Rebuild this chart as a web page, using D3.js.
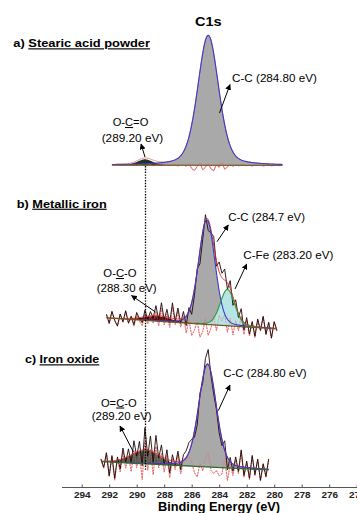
<!DOCTYPE html>
<html><head><meta charset="utf-8">
<script src="https://cdn.jsdelivr.net/npm/d3@7"></script>
<style>
html,body{margin:0;padding:0;background:#fff;}
svg{display:block;font-family:"Liberation Sans",Arial,sans-serif;}
</style></head>
<body>
<svg id="chart" width="357" height="513"></svg>
<script>
// ---------------- DATA ----------------
const energyTicks = [294, 292, 290, 288, 286, 284, 282, 280, 278, 276, 274];
const panelLetters = ["a)", "b)", "c)"];
const panelNames = ["Stearic acid powder", "Metallic iron", "Iron oxide"];
const energyStart = [291.8, 292.2, 292.6];   // eV, first measured point
const energyStep = 0.2;                        // eV between points
const bgLeft = [0.3, 11, 8.9];                 // background intensity at left end
const bgRight = [0, 1, 1];                     // background intensity at right end

// fitted components
const compPanel   = [0, 0, 1, 1, 1, 2, 2];
const compName    = ["C-C", "O-C=O", "C-C", "C-Fe", "O-C-O", "C-C", "O=C-O"];
const compCenter  = [284.8, 289.4, 284.9, 283.4, 288.5, 284.85, 289.35];
const compFwhm    = [1.8, 1.3, 1.4, 1.25, 2.3, 1.5, 2.4];
const compHeight  = [100, 4.5, 95, 33, 4.5, 98, 13];
const compLorentz = [0.3, 0.2, 0.15, 0.15, 0.2, 0.2, 0.2];

// residuals (raw - fit)
const residualA = [0.2,-0.3,0.1,0.4,-0.2,0,0.3,-0.1,0.2,-0.3,0.5,0.1,-0.2,0.3,0.6,-0.4,0.2,0.5,-0.3,0.1,0.4,-0.2,0,0.3,-0.5,0.2,0.6,-0.8,
  1.5,-2.5,-4,-1,2,-3.5,-1.5,1.8,-2.8,-4.2,0.5,-1.5,2.2,-3,-1.2,
  0.8,-0.6,0.4,-0.3,0.2,0.5,-0.2,0.1,-0.4,0.3,0,0.2,-0.3,0.1,0.4,-0.2,0,0.3,-0.1,0.2];
const residualB = [3,-5,6,-2,-7,4,-3,7,-4,2,-6,5,-1,-5,6,-3,4,
  -2,9,-4,12,-3,7,-5,14,-2,10,
  -4,6,-9,3,-11,-6,2,-12,-7,5,-10,-3,8,-5,9,4,10,
  -6,7,-8,5,-4,9,-7,6,
  -8,4,-9,7,-3,10,-6,5,-9,6,-2];
const residualC = [2,-6,8,-14,5,-17,3,-9,10,-5,7,
  -8,12,-4,9,-15,21,-6,14,-10,17,-3,11,
  -7,9,-12,6,-4,10,-8,5,
  6,9,4,-6,-10,3,-4,8,14,-3,
  -6,-3,-8,-6,9,-12,4,-7,8,-5,
  16,-8,6,-10,12,-6,9,-11,5,-7,10];
const residuals = [residualA, residualB, residualC];
const showRaw = [false, true, true];

// annotations
const peakLabelTop = ["C-C (284.80 eV)", "O-C=O", "C-C (284.7 eV)", "C-Fe (283.20 eV)", "O-C-O", "C-C (284.80 eV)", "O=C-O"];
const peakLabelBottom = [null, "(289.20 eV)", null, null, "(288.30 eV)", null, "(289.20 eV)"];
const titleText = "C1s";
const axisTitle = "Binding Energy (eV)";

// ---------------- LAYOUT ----------------
const layout = {
  yZero: [165.5, 330, 471],
  pxPerUnit: [1.3, 1.1, 1.05],
  heading: [{x:13.3, y:47.3, w:136.7}, {x:16.7, y:207.7, w:90}, {x:25, y:363.3, w:74.3}],
  labels: [
    {x:232, y:82, w:85, anchor:"start", x2:0, y2:0, w2:0, arrow:[219.5,113,230,84.5]},
    {x:130.5, y:126, w:35.6, anchor:"middle", x2:132.5, y2:141.5, w2:61.6, arrow:[145,157,141,144]},
    {x:228.3, y:220.5, w:76.7, anchor:"start", x2:0, y2:0, w2:0, arrow:[217,241.7,228.3,225]},
    {x:243.3, y:259, w:90, anchor:"start", x2:0, y2:0, w2:0, arrow:[235,289,246.7,264]},
    {x:120, y:277, w:33.3, anchor:"middle", x2:126.7, y2:292, w2:60, arrow:[155,311.7,131.5,295.5]},
    {x:223.3, y:376.5, w:83.3, anchor:"start", x2:0, y2:0, w2:0, arrow:[218.3,410.7,230,385]},
    {x:118.8, y:406.5, w:35.7, anchor:"middle", x2:121.7, y2:420, w2:60, arrow:[133.3,451.7,120,426]}
  ],
  compFill: ["#a9a9a9", "#1f3320", "#a9a9a9", "#b7e4e4", "#5c1010", "#a9a9a9", "#4d5c52"],
  compStroke: ["#3b3bcf", "#1f3320", "#3b3bcf", "#2e9a3a", "#5c1010", "#3b3bcf", "#3d4c42"],
  bgColor: ["#7a6030", "#6b5a28", "#2f6a2f"],
  envWidth: [0.5, 0.9, 0.9],
  axisY: 487.5
};

const svg = d3.select("#chart");
const x = d3.scaleLinear().domain([294, 274]).range([81.7, 356.7]);

function gl(E, c, f, h, m) {
  const t = (E - c) / f;
  const g = Math.exp(-4 * Math.LN2 * t * t);
  const l = 1 / (1 + 4 * t * t);
  return h * ((1 - m) * g + m * l);
}

const defs = svg.append("defs");
defs.append("marker").attr("id", "arr").attr("viewBox", "0 0 10 10")
  .attr("refX", 9).attr("refY", 5).attr("markerWidth", 6).attr("markerHeight", 6)
  .attr("markerUnits", "userSpaceOnUse").attr("orient", "auto")
  .append("path").attr("d", "M0,0 L10,5 L0,10 z").attr("fill", "#000");

const dotE = 289.36;

for (let p = 0; p < 3; p++) {
  const res = residuals[p];
  const n = res.length;
  const e0 = energyStart[p];
  const e1 = e0 - energyStep * (n - 1);
  const y = d3.scaleLinear().domain([0, 100])
    .range([layout.yZero[p], layout.yZero[p] - 100 * layout.pxPerUnit[p]]);
  const bg = E => bgLeft[p] + (bgRight[p] - bgLeft[p]) * (e0 - E) / (e0 - e1);
  const comps = d3.range(compPanel.length).filter(i => compPanel[i] === p);
  const fit = E => bg(E) + d3.sum(comps, i => gl(E, compCenter[i], compFwhm[i], compHeight[i], compLorentz[i]));
  const fine = d3.range(e0, e1 - 0.001, -0.05);
  const pts = d3.range(n).map(i => e0 - energyStep * i);
  const g = svg.append("g");

  // residual (plotted on background), drawn first
  g.append("path").datum(pts)
    .attr("d", d3.line().x(E => x(E)).y((E, i) => y(bg(E) + res[i])))
    .attr("fill", "none").attr("stroke", "#e25a5a").attr("stroke-width", 0.8)
    .attr("stroke-dasharray", p === 0 ? null : "2,0.8");

  comps.forEach(i => {
    const area = d3.area().x(E => x(E)).y0(E => y(bg(E)))
      .y1(E => y(bg(E) + gl(E, compCenter[i], compFwhm[i], compHeight[i], compLorentz[i])));
    const f2 = fine.filter(E => gl(E, compCenter[i], compFwhm[i], compHeight[i], compLorentz[i]) > 0.05 * Math.min(1, compHeight[i]));
    g.append("path").datum(f2).attr("d", area).attr("fill", layout.compFill[i]).attr("stroke", "none");
  });

  // residual again on top (light), like the reference where it crosses fills
  g.append("path").datum(pts)
    .attr("d", d3.line().x(E => x(E)).y((E, i) => y(bg(E) + res[i])))
    .attr("fill", "none").attr("stroke", "#e86a6a").attr("stroke-width", 0.7)
    .attr("stroke-dasharray", p === 0 ? null : "2,0.8").attr("opacity", 0.8);

  if (showRaw[p]) {
    g.append("path").datum(pts)
      .attr("d", d3.line().x(E => x(E)).y((E, i) => y(fit(E) + res[i])))
      .attr("fill", "none").attr("stroke", "#1e0808").attr("stroke-width", 0.9);
  }

  g.append("path").datum(fine)
    .attr("d", d3.line().x(E => x(E)).y(E => y(fit(E))))
    .attr("fill", "none").attr("stroke", "#e02020").attr("stroke-width", layout.envWidth[p]);

  comps.forEach(i => {
    const f2 = fine.filter(E => gl(E, compCenter[i], compFwhm[i], compHeight[i], compLorentz[i]) > 0.3);
    if (compHeight[i] < 20) return;
    g.append("path").datum(f2)
      .attr("d", d3.line().x(E => x(E)).y(E => y(bg(E) + gl(E, compCenter[i], compFwhm[i], compHeight[i], compLorentz[i]))))
      .attr("fill", "none").attr("stroke", layout.compStroke[i]).attr("stroke-width", 1.1);
  });

  g.append("path").datum([e0, e1])
    .attr("d", d3.line().x(E => x(E)).y(E => y(bg(E))))
    .attr("fill", "none").attr("stroke", layout.bgColor[p]).attr("stroke-width", 1.2);

  const h = layout.heading[p];
  const ht = svg.append("text").attr("x", h.x).attr("y", h.y)
    .attr("font-size", 11.5).attr("font-weight", "bold").attr("fill", "#000")
    .attr("textLength", h.w).attr("lengthAdjust", "spacingAndGlyphs");
  ht.append("tspan").text(panelLetters[p] + " ");
  ht.append("tspan").style("text-decoration", "underline").text(panelNames[p]);
}

svg.append("line").attr("x1", x(dotE)).attr("x2", x(dotE)).attr("y1", 166).attr("y2", 471)
  .attr("stroke", "#000").attr("stroke-width", 1.3).attr("stroke-dasharray", "1.4,1.4");

peakLabelTop.forEach((txt, i) => {
  const L = layout.labels[i];
  const t = svg.append("text").attr("x", L.x).attr("y", L.y).attr("text-anchor", L.anchor)
    .attr("font-size", 10.5).attr("fill", "#000")
    .attr("textLength", L.w).attr("lengthAdjust", "spacingAndGlyphs");
  if (/^O[-=]C[-=]O$/.test(txt)) {
    t.append("tspan").text(txt.slice(0, 2));
    t.append("tspan").style("text-decoration", "underline").text(txt[2]);
    t.append("tspan").text(txt.slice(3));
  } else {
    t.text(txt);
  }
  if (peakLabelBottom[i]) {
    svg.append("text").attr("x", L.x2).attr("y", L.y2).attr("text-anchor", "middle")
      .attr("font-size", 10.5).attr("fill", "#000")
      .attr("textLength", L.w2).attr("lengthAdjust", "spacingAndGlyphs")
      .text(peakLabelBottom[i]);
  }
  const a = L.arrow;
  svg.append("line").attr("x1", a[0]).attr("y1", a[1]).attr("x2", a[2]).attr("y2", a[3])
    .attr("stroke", "#000").attr("stroke-width", 1).attr("marker-end", "url(#arr)");
});

svg.append("text").attr("x", 208.3).attr("y", 26).attr("text-anchor", "middle")
  .attr("font-size", 13).attr("font-weight", "bold")
  .attr("textLength", 26.7).attr("lengthAdjust", "spacingAndGlyphs").text(titleText);

const ax = svg.append("g").attr("transform", `translate(0,${layout.axisY})`)
  .call(d3.axisBottom(x).tickValues(energyTicks).tickFormat(d3.format("d"))
    .tickSizeInner(-3).tickSizeOuter(0).tickPadding(4));
ax.select(".domain").remove();
ax.selectAll(".tick line").attr("stroke", "#555");
ax.selectAll(".tick text").attr("font-size", 9.5).attr("font-weight", "bold")
  .attr("font-family", "Liberation Sans, Arial, sans-serif").attr("fill", "#222")
  .attr("transform", "scale(1.05,1)");
ax.append("line").attr("x1", 62).attr("x2", 357).attr("y1", 0).attr("y2", 0)
  .attr("stroke", "#555").attr("stroke-width", 1);

svg.append("text").attr("x", 219).attr("y", 510.5).attr("text-anchor", "middle")
  .attr("font-size", 12.5).attr("font-weight", "bold")
  .attr("textLength", 122).attr("lengthAdjust", "spacingAndGlyphs").text(axisTitle);
</script>
</body></html>
